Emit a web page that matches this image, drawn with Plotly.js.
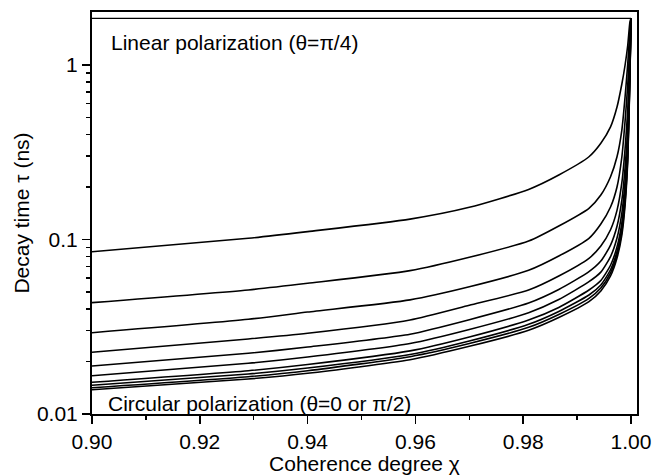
<!DOCTYPE html>
<html>
<head>
<meta charset="utf-8">
<script src="https://cdn.plot.ly/plotly-3.0.1.min.js"></script>
<style>html,body{margin:0;padding:0;background:#fff;}#chart{width:662px;height:475px;}</style>
</head>
<body>
<div id="chart"></div>
<script>
// Coherence degree (x) sample positions
const chi = [0.90, 0.929, 0.94, 0.959, 0.970, 0.981, 0.9866, 0.9922, 0.9944, 0.9962, 0.9974, 0.9983, 0.9989, 0.9994, 0.9998, 1.0];

// Linear polarization (theta = pi/4): flat line
const chiLinear = [0.90, 1.00];
const tauLinear = [1.85, 1.85];

// Decay time curves (ns), top to bottom
const tau1  = [0.0851, 0.1016, 0.111, 0.1309, 0.1529, 0.1937, 0.2343, 0.298, 0.3558, 0.4416, 0.574, 0.778, 1.0, 1.302, 1.763, 1.85];
const tau2  = [0.0435, 0.0514, 0.0561, 0.0663, 0.0791, 0.098, 0.1195, 0.151, 0.1799, 0.229, 0.298, 0.424, 0.658, 1.023, 1.587, 1.85];
const tau3  = [0.02924, 0.0349, 0.0384, 0.0451, 0.0536, 0.0666, 0.0804, 0.1016, 0.1227, 0.1536, 0.2000, 0.2971, 0.4777, 0.7783, 1.354, 1.85];
const tau4  = [0.02258, 0.0269, 0.02901, 0.03457, 0.04197, 0.05136, 0.0618, 0.07802, 0.0917, 0.1137, 0.1468, 0.2116, 0.3314, 0.5590, 1.173, 1.85];
const tau5  = [0.01884, 0.02228, 0.02421, 0.02866, 0.03471, 0.04326, 0.0517, 0.06539, 0.0752, 0.0928, 0.1190, 0.1680, 0.2586, 0.4467, 1.064, 1.85];
const tau6  = [0.01658, 0.01952, 0.02121, 0.02535, 0.0305, 0.03806, 0.0453, 0.05731, 0.0650, 0.0798, 0.1020, 0.1417, 0.2153, 0.3787, 0.991, 1.85];
const tau7  = [0.0152, 0.0177, 0.01921, 0.02299, 0.02762, 0.03457, 0.0408, 0.05136, 0.0582, 0.0712, 0.0907, 0.1247, 0.1877, 0.3341, 0.9386, 1.85];
const tau8  = [0.01461, 0.01695, 0.01834, 0.02193, 0.0262, 0.03266, 0.0387, 0.04808, 0.0549, 0.0671, 0.0853, 0.1166, 0.1743, 0.3127, 0.9118, 1.85];
const tau9  = [0.01415, 0.01636, 0.0177, 0.0213, 0.02535, 0.03139, 0.0372, 0.04603, 0.0528, 0.0644, 0.0817, 0.1111, 0.1658, 0.2987, 0.8939, 1.85];
const tau10 = [0.01378, 0.01587, 0.01711, 0.02047, 0.02443, 0.03018, 0.0357, 0.04401, 0.0507, 0.0618, 0.0783, 0.1061, 0.1577, 0.2855, 0.8765, 1.85];

// Tick values / labels
const xTickVals = [0.90, 0.92, 0.94, 0.96, 0.98, 1.00];
const xTickText = ["0.90", "0.92", "0.94", "0.96", "0.98", "1.00"];
const xMinorVals = [0.91, 0.93, 0.95, 0.97, 0.99];
const yTickVals = [0.01, 0.1, 1];
const yTickText = ["0.01", "0.1", "1"];
const yMinorVals = [0.02,0.03,0.04,0.05,0.06,0.07,0.08,0.09,0.2,0.3,0.4,0.5,0.6,0.7,0.8,0.9];

const curves = [tau1, tau2, tau3, tau4, tau5, tau6, tau7, tau8, tau9, tau10];
const FONT = "Liberation Sans, Arial, sans-serif";

const traces = [{
  x: chiLinear, y: tauLinear, mode: 'lines', type: 'scatter',
  line: {color: '#000', width: 1.3}, hoverinfo: 'skip', showlegend: false
}];
curves.forEach(c => traces.push({
  x: chi, y: c, mode: 'lines', type: 'scatter',
  line: {color: '#000', width: 1.6, shape: 'spline', smoothing: 0.6},
  hoverinfo: 'skip', showlegend: false
}));

const layout = {
  width: 662, height: 475,
  margin: {l: 92, r: 25, t: 12, b: 61},
  paper_bgcolor: '#fff', plot_bgcolor: '#fff',
  font: {family: FONT, size: 21, color: '#000'},
  xaxis: {
    range: [0.9, 1.00111],
    tickmode: 'array', tickvals: xTickVals, ticktext: xTickText,
    ticks: 'outside', ticklen: 8, tickwidth: 1.5, tickcolor: '#000',
    minor: {tickmode: 'array', tickvals: xMinorVals, ticks: 'outside', ticklen: 4, tickwidth: 1.5, tickcolor: '#000'},
    showline: true, linecolor: '#000', linewidth: 2, mirror: true,
    showgrid: false, zeroline: false,
    tickfont: {family: FONT, size: 21},
    title: {text: 'Coherence degree χ', font: {family: FONT, size: 21}, standoff: 2}
  },
  yaxis: {
    type: 'log', range: [-2, 0.3037],
    tickmode: 'array', tickvals: yTickVals, ticktext: yTickText,
    ticks: 'outside', ticklen: 8, tickwidth: 1.5, tickcolor: '#000',
    minor: {tickmode: 'array', tickvals: yMinorVals, ticks: 'outside', ticklen: 4, tickwidth: 1.5, tickcolor: '#000'},
    showline: true, linecolor: '#000', linewidth: 2, mirror: true,
    showgrid: false, zeroline: false,
    tickfont: {family: FONT, size: 21},
    title: {text: 'Decay time τ (ns)', font: {family: FONT, size: 21}, standoff: 2}
  },
  annotations: [
    {xref: 'paper', yref: 'paper', x: 0.031, y: 0.923, xanchor: 'left', yanchor: 'middle',
     text: 'Linear polarization (θ=π/4)', showarrow: false, font: {family: FONT, size: 21}},
    {xref: 'paper', yref: 'paper', x: 0.025, y: 0.027, xanchor: 'left', yanchor: 'middle',
     text: 'Circular polarization (θ=0 or π/2)', showarrow: false, font: {family: FONT, size: 21}}
  ]
};

Plotly.newPlot('chart', traces, layout, {displayModeBar: false, staticPlot: true});
</script>
</body>
</html>
